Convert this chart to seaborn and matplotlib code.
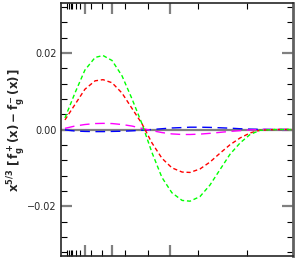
import numpy as np
import pandas as pd
import seaborn as sns
import matplotlib.pyplot as plt

# x in axis fraction units (linear, 0..1)
x = [0.017, 0.060, 0.103, 0.147, 0.181, 0.220, 0.263, 0.306, 0.349, 0.392,
     0.435, 0.478, 0.522, 0.556, 0.599, 0.642, 0.685, 0.728, 0.772, 0.815,
     0.858, 0.922, 0.996]

green = [3.0, 9.5, 15.5, 18.8, 19.3, 18.0, 14.0, 8.0, 1.5, -6.0, -12.5, -16.5,
         -18.5, -18.7, -17.5, -14.5, -10.5, -6.5, -3.5, -1.3, -0.2, 0.0, 0.0]
red = [2.5, 6.5, 10.5, 12.7, 13.0, 12.2, 9.5, 5.5, 1.5, -3.5, -7.5, -10.0,
       -11.1, -11.2, -10.3, -8.5, -6.2, -4.0, -2.2, -0.9, -0.2, 0.0, 0.0]
magenta = [0.3, 0.9, 1.3, 1.55, 1.6, 1.55, 1.3, 0.9, 0.3, -0.3, -0.8, -1.15,
           -1.3, -1.3, -1.2, -1.0, -0.75, -0.5, -0.3, -0.1, 0.0, 0.0, 0.0]
blue = [-0.1, -0.4, -0.5, -0.55, -0.55, -0.5, -0.45, -0.35, -0.2, 0.0, 0.2, 0.4,
        0.5, 0.6, 0.6, 0.55, 0.45, 0.35, 0.2, 0.1, 0.05, 0.0, 0.0]

x_major = [0.103, 0.219, 0.470]
x_minor = [0.025, 0.034, 0.043, 0.049, 0.063, 0.082, 0.129, 0.175, 0.276,
           0.374, 0.590, 0.800]

sns.set_style('ticks')
plt.rcParams['font.family'] = ['DejaVu Sans']

fig = plt.figure(figsize=(2.97, 2.59), dpi=100)
ax = fig.add_axes([61 / 297, 3 / 259, 232 / 297, 253 / 259])

ax.axhline(0, color='#808080', lw=1.6, zorder=1)

series = [
    (blue, '#0000ff', (0, (7, 4))),
    (magenta, '#ff00ff', (0, (7, 4))),
    (red, '#ff0000', (0, (3, 2))),
    (green, '#00ff00', (0, (3, 2))),
]
for vals, col, ls in series:
    sns.lineplot(x=x, y=np.array(vals) * 1e-3, ax=ax, color=col,
                 linestyle=ls, lw=1.0, zorder=3)

ax.set_xlim(0, 1)
ax.set_ylim(-0.033, 0.033)

ax.set_xticks(x_major)
ax.set_xticks(x_minor, minor=True)
ax.set_xticklabels([])
ax.set_yticks([-0.02, 0.0, 0.02])
ax.set_yticklabels(['\u22120.02', '0.00', '0.02'], fontsize=7)
ax.set_yticks(np.arange(-0.032, 0.0321, 0.004), minor=True)

ax.tick_params(which='major', direction='in', length=8, width=1.6,
               color='#808080', top=True, right=True, pad=3)
ax.tick_params(which='minor', direction='in', length=4, width=0.8,
               color='black', top=True, right=True)

for s in ax.spines.values():
    s.set_linewidth(1.2)
ax.spines['right'].set_color('#606060')
ax.spines['right'].set_linewidth(2.0)

ax.set_xlabel('')
ax.set_ylabel(r'$\mathbf{x^{5/3}\ [\,f^+_g(x) - f^-_g(x)\,]}$', fontsize=8.5)
ax.yaxis.set_label_coords(-0.145, 0.5)

fig.savefig('out.png', dpi=100)
